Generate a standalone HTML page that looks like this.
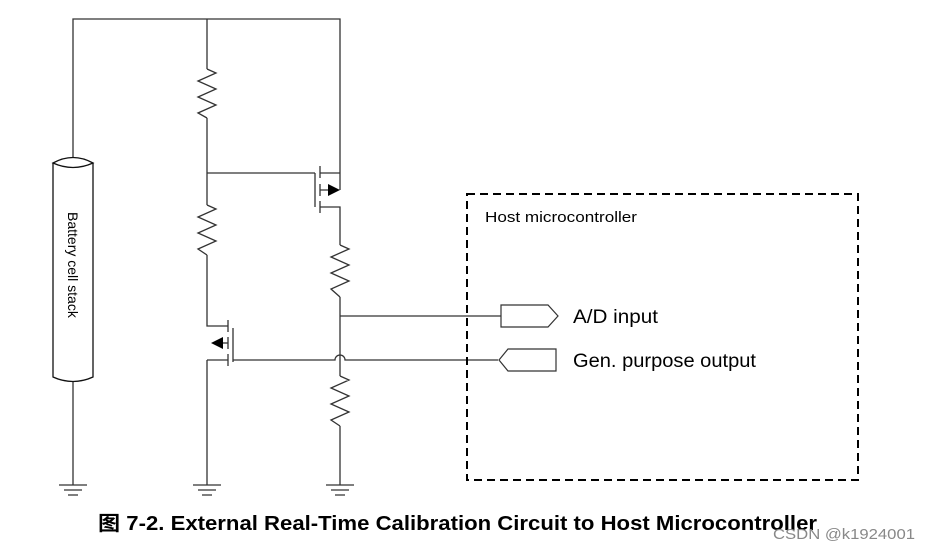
<!DOCTYPE html>
<html><head><meta charset="utf-8"><style>
body{margin:0;background:#fff;width:929px;height:548px;overflow:hidden}
svg{display:block}
</style></head><body>
<svg width="929" height="548" viewBox="0 0 929 548" xmlns="http://www.w3.org/2000/svg">
<g fill="none" stroke="#333" stroke-width="1.3">
<path d="M73 160V19H340V173"/>
<path d="M207 19V69"/>
<path d="M207 69L216 73L198 81L216 89L198 97L216 105L198 113L207 118"/>
<path d="M207 118V205"/>
<path d="M207 173H315"/>
<path d="M207 205L216 209L198 217L216 225L198 233L216 241L198 249L207 255"/>
<path d="M207 255V326H228"/>
<path d="M207 360H228"/>
<path d="M207 360V485"/>
<path d="M228 320V332M228 337V349M228 354V366"/>
<path d="M233 328V362"/>
<path d="M228 343H214"/>
<path d="M233 360H335A5 5 0 0 1 345 360H498"/>
<path d="M315 173V207"/>
<path d="M320 166V178M320 184V196M320 201V213"/>
<path d="M320 173H340M320 190H328M320 207H340V245"/>
<path d="M340 173V190"/>
<path d="M340 245L349 249L331 257L349 265L331 273L349 281L331 289L340 297"/>
<path d="M340 297V376"/>
<path d="M340 316H501"/>
<path d="M340 376L349 380L331 388L349 396L331 404L349 412L331 420L340 426"/>
<path d="M340 426V485"/>
<path d="M73 380V485"/>
<path d="M59 485H87M64 490H82M68 495H78"/>
<path d="M193 485H221M198 490H216M202 495H212"/>
<path d="M326 485H354M331 490H349M335 495H345"/>
</g>
<path d="M340 190L328 184V196Z" fill="#000"/>
<path d="M211 343L223 337V349Z" fill="#000"/>
<g stroke="#111" stroke-width="1.3" fill="#fff">
<path d="M53 163V377Q73 386 93 377V163"/>
<path d="M53 163Q73 152 93 163Q73 172 53 163Z"/>
</g>
<text transform="translate(68,212) rotate(90)" font-family="Liberation Sans,sans-serif" font-size="14" fill="#000">Battery cell stack</text>
<rect x="467" y="194" width="391" height="286" fill="none" stroke="#000" stroke-width="2" stroke-dasharray="8,5"/>
<text x="485" y="222" font-family="Liberation Sans,sans-serif" font-size="15" fill="#000" textLength="152" lengthAdjust="spacingAndGlyphs">Host microcontroller</text>
<path d="M501 305H548L558 316L548 327H501Z" fill="#fff" stroke="#333" stroke-width="1.2"/>
<path d="M499 360L508 349H556V371H508Z" fill="#fff" stroke="#333" stroke-width="1.2"/>
<text x="573" y="323" font-family="Liberation Sans,sans-serif" font-size="19" fill="#000" textLength="85" lengthAdjust="spacingAndGlyphs">A/D input</text>
<text x="573" y="367" font-family="Liberation Sans,sans-serif" font-size="19" fill="#000" textLength="183" lengthAdjust="spacingAndGlyphs">Gen. purpose output</text>
<text x="98" y="530" font-family="Liberation Sans,'Noto Sans CJK SC',sans-serif" font-size="20" font-weight="bold" fill="#000" textLength="719" lengthAdjust="spacingAndGlyphs">图 7-2. External Real-Time Calibration Circuit to Host Microcontroller</text>
<text x="773" y="539" font-family="Liberation Sans,sans-serif" font-size="15" fill="#888" textLength="142" lengthAdjust="spacingAndGlyphs">CSDN @k1924001</text>
</svg>
</body></html>
